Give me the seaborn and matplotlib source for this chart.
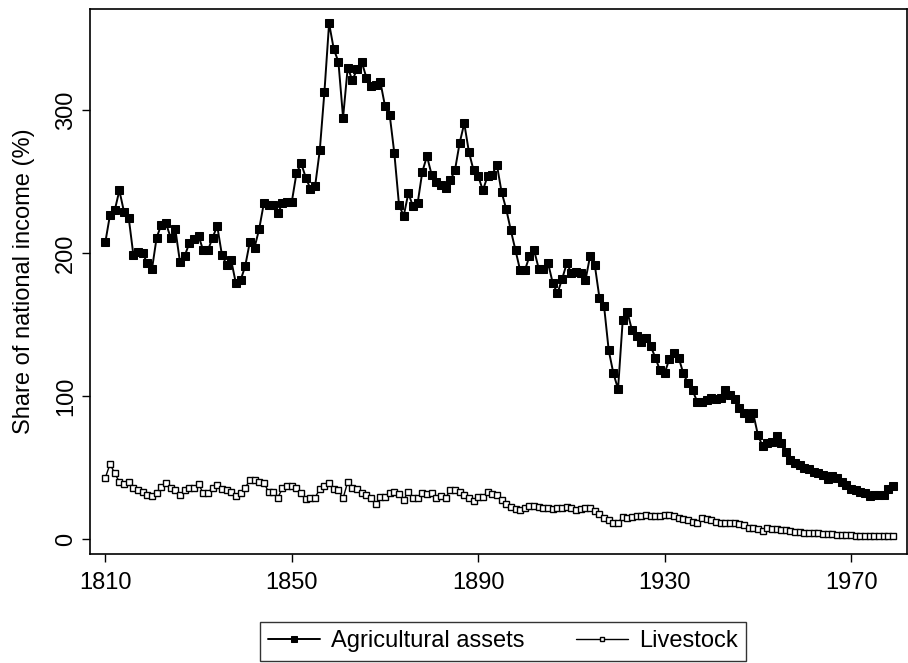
import numpy as np
import pandas as pd
import matplotlib
matplotlib.use('Agg')
import matplotlib.pyplot as plt
import seaborn as sns

# Years covered
years = list(range(1810, 1980))

# Agricultural assets, share of national income (%)
agricultural = [
    208, 227, 230, 244, 229, 225, 199, 201, 200, 193,  # 1810s
    189, 211, 220, 221, 211, 217, 194, 198, 207, 210,  # 1820s
    212, 202, 202, 211, 219, 199, 192, 195, 179, 181,  # 1830s
    191, 208, 204, 217, 235, 234, 234, 228, 235, 236,  # 1840s
    236, 256, 263, 253, 245, 247, 272, 313, 361, 343,  # 1850s
    334, 295, 330, 321, 329, 334, 323, 317, 318, 320,  # 1860s
    303, 297, 270, 234, 226, 242, 233, 235, 257, 268,  # 1870s
    255, 250, 248, 246, 251, 258, 277, 291, 271, 258,  # 1880s
    254, 244, 254, 255, 262, 243, 231, 216, 202, 188,  # 1890s
    188, 198, 202, 189, 189, 193, 179, 172, 182, 193,  # 1900s
    186, 187, 186, 181, 198, 192, 169, 163, 132, 116,  # 1910s
    105, 153, 159, 146, 142, 138, 141, 135, 127, 118,  # 1920s
    116, 126, 130, 127, 116, 109, 104, 96, 96, 97,     # 1930s
    99, 98, 99, 104, 101, 98, 92, 88, 85, 88,          # 1940s
    73, 65, 67, 68, 72, 67, 61, 55, 53, 52,            # 1950s
    50, 49, 47, 46, 45, 42, 44, 43, 40, 38,            # 1960s
    35, 34, 33, 32, 30, 31, 31, 31, 35, 37,            # 1970s
]

# Livestock, share of national income (%)
livestock = [
    43, 52.5, 46, 40, 38.5, 40, 35.5, 34, 33, 30.5,
    30, 32.5, 36.5, 39, 35.5, 34, 30.5, 34, 36, 36,
    38.5, 32, 32.5, 36, 37.5, 35, 34, 33, 30, 32,
    36, 41, 41, 40, 39.5, 33, 33, 29, 35.5, 37,
    37, 35.5, 32, 28, 29, 29, 35, 37, 39, 35,
    34, 28.5, 40, 35.5, 35, 32.5, 31, 29, 24.5, 29.5,
    29.5, 32.5, 33, 31.5, 27.5, 33, 29, 29, 32, 31.5,
    32, 29, 30, 29, 34, 34, 33, 31, 29, 26.5,
    29.5, 29.5, 33, 31.5, 30.5, 27, 24.5, 22.5, 21, 20,
    22, 23, 23, 22.5, 21.5, 22, 21, 21.5, 21.5, 22.5,
    21.5, 20, 21, 22, 21.5, 19.5, 17.5, 15, 13.5, 11.5,
    11.5, 15.5, 15, 15.5, 16, 16, 17, 16, 16, 16,
    17, 17, 16, 15, 14, 13, 12, 11.5, 14.5, 14,
    13, 12, 11.5, 11.5, 11.5, 11.5, 10.5, 9.5, 8, 7.5,
    7, 5.5, 7.5, 7, 7, 6.5, 6, 5.5, 5, 5,
    4.5, 4.5, 4, 4, 3.5, 3.5, 3.5, 3, 3, 3,
    2.5, 2, 2, 2, 2, 2, 2, 2, 2, 2,
]

df = pd.DataFrame({'year': years, 'Agricultural assets': agricultural, 'Livestock': livestock})

sns.set_style('ticks')
plt.rcParams['font.family'] = ['Liberation Sans', 'DejaVu Sans']
plt.rcParams['text.color'] = 'black'
plt.rcParams['axes.labelcolor'] = 'black'
plt.rcParams['xtick.color'] = 'black'
plt.rcParams['ytick.color'] = 'black'

fig = plt.figure(figsize=(9.08, 6.63), dpi=100)
ax = fig.add_axes([90 / 908, 1 - 554 / 663, (907 - 90) / 908, (554 - 9) / 663])

sns.lineplot(x='year', y='Agricultural assets', data=df, ax=ax, color='black',
             marker='s', markersize=6, markerfacecolor='black', markeredgecolor='black',
             linewidth=1.4, label='Agricultural assets')
sns.lineplot(x='year', y='Livestock', data=df, ax=ax, color='black',
             marker='s', markersize=4, markerfacecolor='white', markeredgecolor='black',
             markeredgewidth=1.0, linewidth=1.0, label='Livestock')

ax.set_xlim(1806.7, 1982)
ax.set_ylim(-10.5, 371)
ax.set_xticks([1810, 1850, 1890, 1930, 1970])
ax.set_yticks([0, 100, 200, 300])
ax.set_xlabel('')
ax.set_ylabel('Share of national income (%)', fontsize=17, labelpad=14)
ax.tick_params(axis='both', labelsize=17, length=6, width=1, color='black', direction='out')
ax.tick_params(axis='x', pad=7)
plt.setp(ax.get_yticklabels(), rotation=90, va='center')
for s in ax.spines.values():
    s.set_visible(True)
    s.set_linewidth(1.2)
    s.set_color('black')

ax.get_legend().remove()
handles, labels = ax.get_legend_handles_labels()
leg = fig.legend(handles, labels, loc='upper center', bbox_to_anchor=(0.554, 1 - 622 / 663),
                 ncol=2, frameon=True, fancybox=False, edgecolor='black', fontsize=17,
                 handlelength=2.2, handletextpad=0.45, columnspacing=2.2, borderpad=0.35,
                 borderaxespad=0, markerscale=0.8)
leg.get_frame().set_linewidth(1.0)

fig.savefig('out.png', dpi=100)
